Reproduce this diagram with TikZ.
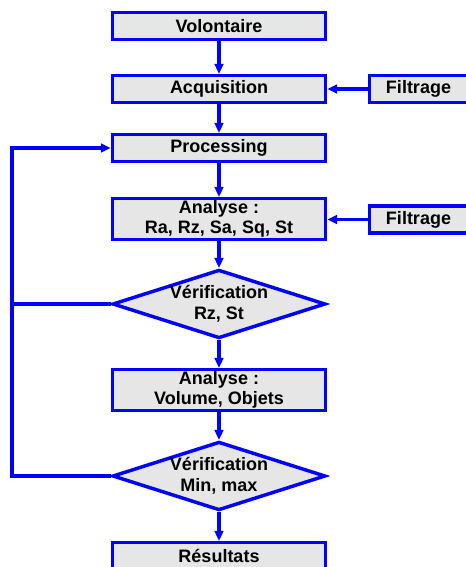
\documentclass[tikz,border=0pt]{standalone}
\usepackage{fontspec}
\setmainfont{Liberation Sans}
\usepackage{tikz}
\usetikzlibrary{arrows.meta, positioning, shapes.geometric}
\definecolor{flowblue}{RGB}{0, 0, 255}
\definecolor{flowgray}{RGB}{230, 230, 230}

\begin{document}
\begin{tikzpicture}[
  x=0.75pt, y=-0.75pt,
  stepbox/.style={rectangle, draw=flowblue, fill=flowgray, line width=2.6pt,
              minimum width=159.75pt, minimum height=20pt, inner sep=0pt,
              align=center, font=\bfseries\fontsize{13.5}{15.5}\selectfont},
  twobox/.style={stepbox, minimum height=30.5pt},
  sidebox/.style={stepbox, minimum width=73.5pt},
  check/.style={diamond, aspect=3.09, draw=flowblue, fill=flowgray, line width=2.6pt,
              minimum width=159.75pt, minimum height=51.5pt, inner sep=0pt,
              align=center, font=\bfseries\fontsize{13.5}{15.5}\selectfont},
  arrow/.style={-{Triangle[length=7.5pt, width=6.5pt]}, line width=2.6pt, flowblue},
  line/.style={line width=2.6pt, flowblue}
]
\useasboundingbox (0,0) rectangle (466,567);
\clip (0,0) rectangle (466,567);

\node[stepbox] (vol)   at (219,26)    {Volontaire};
\node[stepbox] (acq)   at (219,89)    {Acquisition};
\node[stepbox] (proc)  at (219,148)   {Processing};
\node[twobox]  (ana1)  at (219,219)   {Analyse :\\Ra, Rz, Sa, Sq, St};
\node[check]   (ver1)  at (219,304)   {V\'erification\\Rz, St};
\node[twobox]  (ana2)  at (219,390)   {Analyse :\\Volume, Objets};
\node[check]   (ver2)  at (219,476)   {V\'erification\\Min, max};
\node[stepbox] (res)   at (219,556)   {R\'esultats};

\node[sidebox] (filt1) at (418.5,89)  {Filtrage};
\node[sidebox] (filt2) at (418.5,219.5) {Filtrage};

\coordinate (loop) at (12,0);

\draw[arrow] (vol)  -- (acq);
\draw[arrow] (acq)  -- (proc);
\draw[arrow] (proc) -- (ana1);
\draw[arrow] (ana1) -- (ver1);
\draw[arrow] (ver1) -- (ana2);
\draw[arrow] (ana2) -- (ver2);
\draw[arrow] (ver2) -- (res);

\draw[arrow] (filt1) -- (acq);
\draw[arrow] (filt2.west) -- (filt2.west -| ana1.east);

% retour vers Processing
\draw[arrow] (ver2.west) -- (loop |- ver2.west) -- (loop |- proc.west) -- (proc.west);
\draw[line]  (ver1.west) -- (loop |- ver1.west);

\end{tikzpicture}
\end{document}
